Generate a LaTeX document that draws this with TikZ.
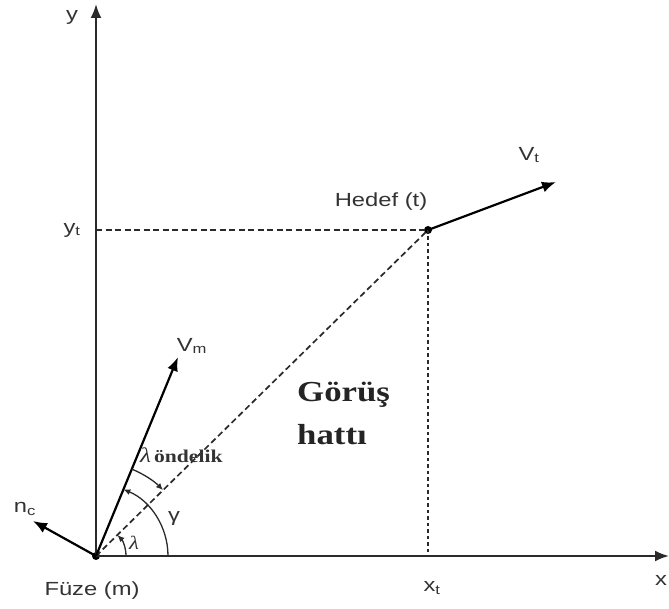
\documentclass[tikz,border=0pt]{standalone}
\usepackage{fontspec}
\setmainfont[FakeStretch=1.25]{Liberation Sans}
\newfontfamily\serifb[FakeStretch=1.2]{Liberation Serif}
\usetikzlibrary{arrows.meta}
\definecolor{txt}{HTML}{333333}
\definecolor{ax}{HTML}{2A2A2A}
\begin{document}
\begin{tikzpicture}[x=1pt,y=-1pt,
  axis/.style={draw=ax,line width=2.2pt,-{Latex[length=14pt,width=11pt]}},
  vec/.style={draw=black,line width=2.2pt,-{Latex[length=14pt,width=11pt]}},
  dsh/.style={draw=ax,line width=1.7pt,dash pattern=on 6pt off 3.5pt},
  dot/.style={draw=ax,line width=1.7pt,dash pattern=on 3.5pt off 3pt},
  angarc/.style={draw=ax,line width=1.3pt,-{Latex[length=7pt,width=6pt]}},
  lbl/.style={text=txt,inner sep=0pt,font=\fontsize{19}{21}\selectfont},
  pt/.style={circle,fill=black,inner sep=0pt,minimum size=8pt}]
\useasboundingbox (0,0) rectangle (669,609);
% points
\node[pt] (M) at (96,556) {};
\node[pt] (T) at (428,230) {};
\coordinate (ytop) at (96,4);
\coordinate (xend) at (669,556);
\coordinate (yt) at (96,230);
\coordinate (xt) at (428,556);
\coordinate (Vt) at (556,182);
\coordinate (Vm) at (178,357);
\coordinate (nc) at (33,521);
% axes
\draw[axis] (M.center) -- (ytop);
\draw[axis] (M.center) -- (xend);
% dashed guides
\draw[dsh] (yt) -- (T.center);
\draw[dot] (T.center) -- (xt);
\draw[dsh] (M.center) -- (T.center);
% vectors
\draw[vec] (T.center) -- (Vt);
\draw[vec] (M.center) -- (Vm);
\draw[vec] (M.center) -- (nc);
% angle arcs
\draw[angarc] ([shift={(0:72)}]M.center) arc[start angle=0,end angle=-67.7,radius=72];
\draw[angarc] ([shift={(-67.7:94)}]M.center) arc[start angle=-67.7,end angle=-44.5,radius=94];
\draw[angarc] ([shift={(0:30)}]M.center) arc[start angle=0,end angle=-44.5,radius=30];
% labels
\node[lbl] (ly) at (72,17) {y};
\node[lbl] (lyt) at (72,230) {y\textsubscript{t}};
\node[lbl] (lxt) at (432,588) {x\textsubscript{t}};
\node[lbl] (lx) at (661,580) {x};
\node[lbl] (lM) at (92,591) {Füze (m)};
\node[lbl] (lT) at (381,202) {Hedef (t)};
\node[lbl] (lVt) at (529,155) {V\textsubscript{t}};
\node[lbl] (lVm) at (192,346) {V\textsubscript{m}};
\node[lbl] (lnc) at (25,509) {n\textsubscript{c}};
\node[lbl] (lg) at (174,518) {γ};
\node[text=txt,inner sep=0pt,font=\serifb\itshape\fontsize{19}{20}\selectfont] (ll) at (134,543) {λ};
\node[text=txt,inner sep=0pt,anchor=west,font=\serifb\fontsize{18}{20}\selectfont] (llo) at (140,455) {{\itshape\fontsize{21}{22}\selectfont λ}\,\textbf{öndelik}};
\node[text=txt!70!black,inner sep=0pt,anchor=west,align=left,font=\serifb\bfseries\fontsize{29}{43}\selectfont] (los) at (297,413) {Görüş\\hattı};
\end{tikzpicture}
\end{document}
